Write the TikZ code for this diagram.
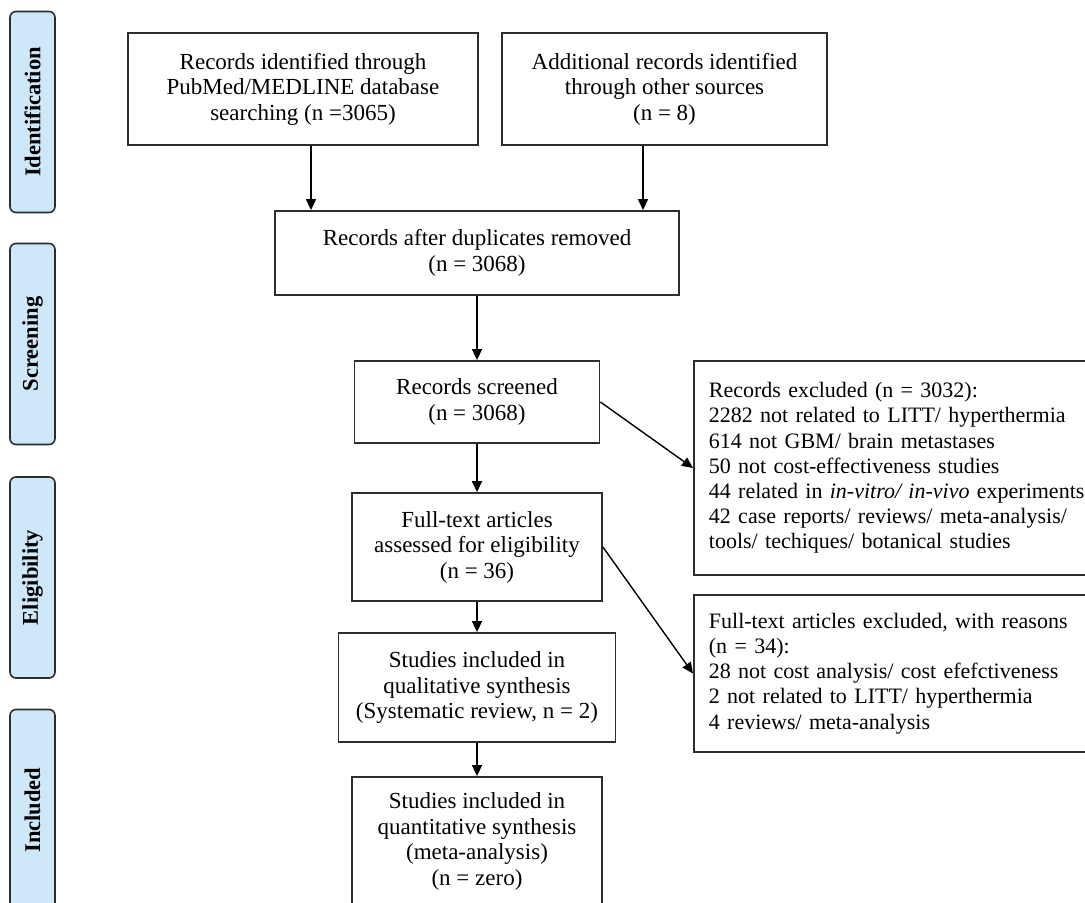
\documentclass[tikz,border=0pt]{standalone}
\usepackage{fontspec}
\setmainfont{Liberation Serif}
\usetikzlibrary{arrows.meta}
\definecolor{phasefill}{RGB}{206,232,250}
\definecolor{boxline}{RGB}{45,45,45}
\tikzset{
  flowbox/.style={draw=boxline,line width=0.9pt,align=center,inner sep=0pt,
    font=\fontsize{11.5}{12.75}\selectfont},
  notebox/.style={draw=boxline,line width=0.9pt,align=left,anchor=west,
    inner xsep=7.5pt,inner ysep=0pt,text width=240pt,font=\fontsize{11}{12.6}\selectfont},
  phase/.style={draw=boxline,fill=phasefill,rounded corners=3pt,line width=0.8pt,
    rotate=90,minimum width=100.5pt,minimum height=22.5pt,inner sep=0pt,
    font=\fontsize{11.25}{12}\selectfont\bfseries},
  link/.style={->,line width=0.7pt}
}
\begin{document}
\begin{tikzpicture}[x=0.5pt,y=-0.5pt,>={Triangle[length=5.5pt,width=5pt]}]
  \clip (0,0) rectangle (1085,903);
  \fill[white] (0,0) rectangle (1085,903);

  \node[phase] (ident) at (32.5,112)   {Identification};
  \node[phase] (scrn)  at (32.5,344)   {Screening};
  \node[phase] (elig)  at (32.5,577.5) {Eligibility};
  \node[phase] (incl)  at (32.5,810)   {Included};

  \node[flowbox,minimum width=175pt,minimum height=56pt] (pubmed) at (303,89)
    {Records identified through\\PubMed/MEDLINE database\\searching (n =3065)};
  \node[flowbox,minimum width=162.5pt,minimum height=56pt] (other) at (664.5,89)
    {Additional records identified\\through other sources\\(n = 8)};
  \node[flowbox,minimum width=202pt,minimum height=42pt] (dupl) at (477,253)
    {Records after duplicates removed\\(n = 3068)};
  \node[flowbox,minimum width=122.5pt,minimum height=41pt] (screen) at (477,402)
    {Records screened\\(n = 3068)};
  \node[flowbox,minimum width=125pt,minimum height=54pt] (fulltext) at (477,547)
    {Full-text articles\\assessed for eligibility\\(n = 36)};
  \node[flowbox,minimum width=138.5pt,minimum height=54.5pt] (qual) at (477,687.5)
    {Studies included in\\qualitative synthesis\\(Systematic review, n = 2)};
  \node[flowbox,minimum width=125pt,minimum height=64.5pt] (quant) at (477,841.5)
    {Studies included in\\quantitative synthesis\\(meta-analysis)\\(n = zero)};

  \node[notebox,minimum height=107pt] (excl) at (693,468)
    {Records excluded (n = 3032):\\
     2282 not related to LITT/ hyperthermia\\
     614 not GBM/ brain metastases\\
     50 not cost-effectiveness studies\\
     44 related in \textit{in-vitro/ in-vivo} experiments\\
     42 case reports/ reviews/ meta-analysis/\\
     tools/ techiques/ botanical studies};
  \node[notebox,minimum height=78.5pt] (ftexcl) at (693,673.5)
    {Full-text articles excluded, with reasons\\
     (n = 34):\\
     28 not cost analysis/ cost efefctiveness\\
     2 not related to LITT/ hyperthermia\\
     4 reviews/ meta-analysis};

  \coordinate (a1) at (311,0);
  \coordinate (a2) at (643,0);
  \draw[link] (pubmed.south -| a1) -- (dupl.north -| a1);
  \draw[link] (other.south -| a2) -- (dupl.north -| a2);
  \draw[link] (dupl) -- (screen);
  \draw[link] (screen) -- (fulltext);
  \draw[link] (fulltext) -- (qual);
  \draw[link] (qual) -- (quant);
  \draw[link] (screen.east) -- (excl.west);
  \draw[link] (fulltext.east) -- (ftexcl.west);
\end{tikzpicture}
\end{document}
